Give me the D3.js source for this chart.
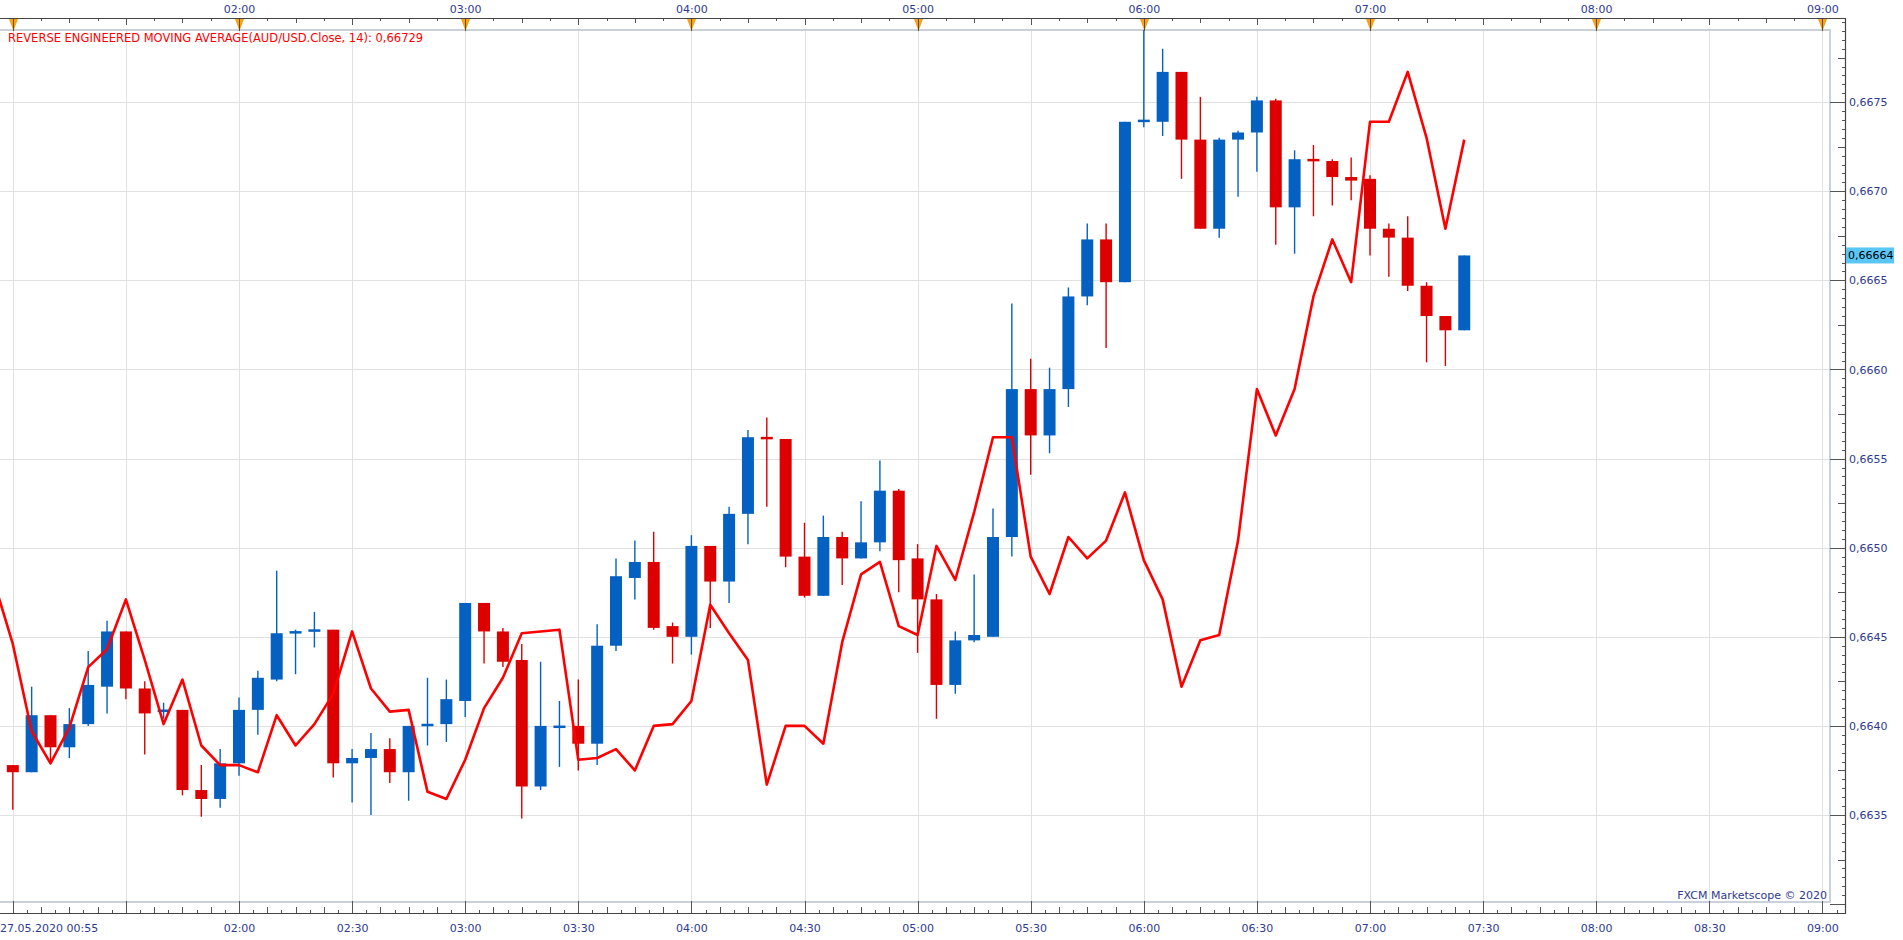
<!DOCTYPE html>
<html>
<head>
<meta charset="utf-8">
<script src="https://cdn.jsdelivr.net/npm/d3@7"></script>
<style>
body { margin: 0; background: #fff; }
text { font-family: "DejaVu Sans", sans-serif; }
</style>
</head>
<body>
<svg id="chart" width="1903" height="940"></svg>
<script>
// AUD/USD 5 minute bars, 27.05.2020
var times = ["00:55","01:00","01:05","01:10","01:15","01:20","01:25","01:30","01:35","01:40","01:45","01:50","01:55",
  "02:00","02:05","02:10","02:15","02:20","02:25","02:30","02:35","02:40","02:45","02:50","02:55",
  "03:00","03:05","03:10","03:15","03:20","03:25","03:30","03:35","03:40","03:45","03:50","03:55",
  "04:00","04:05","04:10","04:15","04:20","04:25","04:30","04:35","04:40","04:45","04:50","04:55",
  "05:00","05:05","05:10","05:15","05:20","05:25","05:30","05:35","05:40","05:45","05:50","05:55",
  "06:00","06:05","06:10","06:15","06:20","06:25","06:30","06:35","06:40","06:45","06:50","06:55",
  "07:00","07:05","07:10","07:15","07:20","07:25"];

var open = [0.66377,0.66378,0.66374,0.66406,0.66388,0.66401,0.66422,0.66453,0.66421,0.66408,0.66409,0.66364,0.66359,
  0.66379,0.66409,0.66426,0.66452,0.66453,0.66454,0.66379,0.66382,0.66387,0.66374,0.66400,0.66401,
  0.66414,0.66469,0.66453,0.66437,0.66366,0.66399,0.66400,0.66390,0.66445,0.66483,0.66492,0.66456,
  0.66450,0.66501,0.66481,0.66519,0.66562,0.66561,0.66495,0.66473,0.66506,0.66494,0.66503,0.66532,
  0.66494,0.66471,0.66423,0.66448,0.66450,0.66506,0.66589,0.66563,0.66589,0.66641,0.66673,0.66649,
  0.66739,0.66739,0.66767,0.66729,0.66679,0.66729,0.66733,0.66751,0.66691,0.66718,0.66717,0.66708,
  0.66707,0.66679,0.66674,0.66647,0.66630,0.66622];

var high = [0.66380,0.66378,0.66422,0.66406,0.66410,0.66442,0.66459,0.66453,0.66425,0.66413,0.66409,0.66378,0.66387,
  0.66416,0.66431,0.66487,0.66454,0.66464,0.66454,0.66387,0.66396,0.66393,0.66400,0.66427,0.66426,
  0.66469,0.66469,0.66455,0.66446,0.66436,0.66414,0.66426,0.66457,0.66494,0.66504,0.66509,0.66458,
  0.66507,0.66501,0.66523,0.66566,0.66573,0.66561,0.66514,0.66518,0.66509,0.66526,0.66549,0.66533,
  0.66502,0.66474,0.66453,0.66485,0.66522,0.66637,0.66606,0.66601,0.66646,0.66682,0.66682,0.66739,
  0.66800,0.66780,0.66767,0.66753,0.66730,0.66734,0.66753,0.66752,0.66723,0.66726,0.66718,0.66719,
  0.66709,0.66682,0.66686,0.66649,0.66630,0.66664];

var low = [0.66376,0.66353,0.66374,0.66380,0.66382,0.66400,0.66407,0.66415,0.66384,0.66404,0.66361,0.66349,0.66354,
  0.66372,0.66395,0.66425,0.66429,0.66444,0.66371,0.66357,0.66350,0.66368,0.66358,0.66389,0.66391,
  0.66405,0.66435,0.66433,0.66348,0.66364,0.66377,0.66375,0.66378,0.66442,0.66471,0.66454,0.66435,
  0.66440,0.66455,0.66469,0.66502,0.66523,0.66489,0.66472,0.66473,0.66479,0.66494,0.66498,0.66475,
  0.66441,0.66404,0.66418,0.66447,0.66450,0.66495,0.66541,0.66553,0.66579,0.66636,0.66612,0.66649,
  0.66736,0.66731,0.66707,0.66679,0.66674,0.66697,0.66711,0.66670,0.66665,0.66686,0.66692,0.66695,
  0.66664,0.66652,0.66644,0.66604,0.66602,0.66622];

var close = [0.66379,0.66374,0.66406,0.66388,0.66401,0.66423,0.66453,0.66421,0.66407,0.66409,0.66364,0.66359,0.66379,
  0.66409,0.66427,0.66452,0.66453,0.66454,0.66379,0.66382,0.66387,0.66374,0.66400,0.66401,0.66415,
  0.66469,0.66453,0.66436,0.66366,0.66400,0.66400,0.66390,0.66445,0.66484,0.66492,0.66455,0.66450,
  0.66501,0.66481,0.66519,0.66562,0.66561,0.66495,0.66473,0.66506,0.66494,0.66503,0.66532,0.66493,
  0.66471,0.66423,0.66448,0.66451,0.66506,0.66589,0.66563,0.66589,0.66641,0.66673,0.66649,0.66739,
  0.66740,0.66767,0.66729,0.66679,0.66729,0.66733,0.66751,0.66691,0.66718,0.66717,0.66708,0.66706,
  0.66679,0.66674,0.66647,0.66630,0.66622,0.66664];

// reverse engineered moving average (AUD/USD.Close, 14)
var rema = [0.66481,0.66446,0.66397,0.66379,0.66399,0.66433,0.66443,0.66471,0.66437,0.66401,0.66426,0.66389,0.66378,
  0.66378,0.66374,0.66406,0.66389,0.66401,0.66418,0.66453,0.66421,0.66408,0.66409,0.66363,0.66359,
  0.66381,0.66410,0.66427,0.66452,0.66453,0.66454,0.66381,0.66382,0.66387,0.66375,0.66400,0.66401,
  0.66414,0.66468,0.66452,0.66437,0.66367,0.66400,0.66400,0.66390,0.66447,0.66485,0.66492,0.66456,
  0.66451,0.66501,0.66482,0.66520,0.66562,0.66562,0.66495,0.66474,0.66506,0.66494,0.66504,0.66531,
  0.66493,0.66471,0.66422,0.66448,0.66451,0.66504,0.66589,0.66563,0.66589,0.66641,0.66673,0.66649,
  0.66739,0.66739,0.66767,0.66730,0.66679,0.66729];

var hourLabels = ["02:00","03:00","04:00","05:00","06:00","07:00","08:00","09:00"];
var halfHourLabels = ["02:00","02:30","03:00","03:30","04:00","04:30","05:00","05:30","06:00","06:30","07:00","07:30","08:00","08:30","09:00"];
var priceLevels = [0.6635, 0.6640, 0.6645, 0.6650, 0.6655, 0.6660, 0.6665, 0.6670, 0.6675];
var startLabel = "27.05.2020 00:55";
var lastPrice = 0.66664;

var navy = "#2e3b8e", blue = "#0561c1", red = "#dc0000";
var parseTime = d3.utcParse("%H:%M");
var svg = d3.select("#chart");

var x = d3.scaleUtc().domain([parseTime("01:00"), parseTime("09:00")]).range([12.8, 1822.4]);
var y = d3.scaleLinear().domain([0.6635, 0.6675]).range([815, 102.2]);

var plotL = 0, plotR = 1830, plotT = 30, plotB = 902;
var axisTopY = 18, axisBotY = 913, axisRightX = 1845;

var bars = times.map(function (t, i) {
  return {t: parseTime(t), o: open[i], h: high[i], l: low[i], c: close[i], m: rema[i]};
});

svg.append("defs").append("clipPath").attr("id", "plotclip")
  .append("rect").attr("x", plotL).attr("y", plotT).attr("width", plotR - plotL).attr("height", plotB - plotT);

// grid
var grid = svg.append("g").attr("stroke", "#e1e1e1").attr("stroke-width", 1);
var gridTimes = ["01:00", "01:30"].concat(halfHourLabels).map(parseTime);
grid.selectAll(".vgrid").data(gridTimes).enter().append("line")
  .attr("class", "vgrid")
  .attr("x1", function (d) { return Math.round(x(d)) + 0.5; })
  .attr("x2", function (d) { return Math.round(x(d)) + 0.5; })
  .attr("y1", plotT).attr("y2", plotB);
grid.selectAll(".hgrid").data(priceLevels).enter().append("line")
  .attr("class", "hgrid")
  .attr("x1", plotL).attr("x2", plotR)
  .attr("y1", function (d) { return Math.round(y(d)) + 0.5; })
  .attr("y2", function (d) { return Math.round(y(d)) + 0.5; });

// plot frame
svg.append("rect").attr("x", plotL - 2).attr("y", plotT).attr("width", plotR - plotL + 2).attr("height", plotB - plotT)
  .attr("fill", "none").attr("stroke", "#c9d1dd").attr("stroke-width", 2);

// candles
var plot = svg.append("g").attr("clip-path", "url(#plotclip)");
var candle = plot.selectAll(".candle").data(bars).enter().append("g").attr("class", "candle");
candle.append("line")
  .attr("x1", function (d) { return x(d.t); })
  .attr("x2", function (d) { return x(d.t); })
  .attr("y1", function (d) { return y(d.h); })
  .attr("y2", function (d) { return y(d.l); })
  .attr("stroke", function (d) { return d.c >= d.o ? blue : red; })
  .attr("stroke-width", 1.4);
candle.append("rect")
  .attr("x", function (d) { return x(d.t) - 6; })
  .attr("width", 12)
  .attr("y", function (d) {
    var h = Math.abs(y(d.o) - y(d.c));
    return Math.min(y(d.o), y(d.c)) - (h < 2.5 ? (2.5 - h) / 2 : 0);
  })
  .attr("height", function (d) { return Math.max(2.5, Math.abs(y(d.o) - y(d.c))); })
  .attr("fill", function (d) { return d.c >= d.o ? blue : red; });

// moving average line
var line = d3.line().x(function (d) { return x(d.t); }).y(function (d) { return y(d.m); });
plot.append("path").datum(bars)
  .attr("d", line)
  .attr("fill", "none").attr("stroke", "#ff0000").attr("stroke-width", 2.6).attr("stroke-linejoin", "round");

// top axis
var base = parseTime("01:00").getTime();
var topTicks = d3.range(-1, 66).map(function (i) { return {i: i, t: new Date(base + i * 450000)}; })
  .filter(function (d) { return x(d.t) >= 0 && x(d.t) <= axisRightX; });
svg.selectAll(".ttick").data(topTicks).enter().append("line")
  .attr("class", "ttick")
  .attr("x1", function (d) { return Math.round(x(d.t)) + 0.5; })
  .attr("x2", function (d) { return Math.round(x(d.t)) + 0.5; })
  .attr("y1", axisTopY)
  .attr("y2", function (d) {
    var i = ((d.i % 8) + 8) % 8;
    return axisTopY + (i == 0 ? 12 : i == 4 ? 7 : i % 2 == 0 ? 5 : 3);
  })
  .attr("stroke", "#555");
svg.selectAll(".hourmark").data(["01:00"].concat(hourLabels).map(parseTime)).enter().append("path")
  .attr("class", "hourmark")
  .attr("d", function (d) {
    var cx = Math.round(x(d)) + 0.5;
    return "M" + (cx - 4.5) + "," + (axisTopY + 1) + "L" + (cx + 4.5) + "," + (axisTopY + 1) + "L" + cx + "," + (plotT + 1) + "Z";
  })
  .attr("fill", "#f7a21b");
svg.selectAll(".hourline").data(["01:00"].concat(hourLabels).map(parseTime)).enter().append("line")
  .attr("class", "hourline")
  .attr("x1", function (d) { return Math.round(x(d)) + 0.5; })
  .attr("x2", function (d) { return Math.round(x(d)) + 0.5; })
  .attr("y1", axisTopY).attr("y2", plotT + 1)
  .attr("stroke", "#6b4a10").attr("stroke-width", 1);

var topAxis = svg.append("g").attr("transform", "translate(0," + axisTopY + ")")
  .call(d3.axisTop(x).tickValues(hourLabels.map(parseTime)).tickSize(0).tickPadding(5)
    .tickFormat(d3.utcFormat("%H:%M")));
topAxis.select(".domain").remove();

// bottom axis
var botTicks = d3.range(-3, 131).map(function (i) { return {i: i, t: new Date(base + i * 225000)}; })
  .filter(function (d) { return x(d.t) >= 0 && x(d.t) <= axisRightX; });
svg.selectAll(".btick").data(botTicks).enter().append("line")
  .attr("class", "btick")
  .attr("x1", function (d) { return Math.round(x(d.t)) + 0.5; })
  .attr("x2", function (d) { return Math.round(x(d.t)) + 0.5; })
  .attr("y1", axisBotY)
  .attr("y2", function (d) {
    var i = ((d.i % 8) + 8) % 8;
    return axisBotY - (i == 0 ? 12 : i % 2 == 0 ? 6 : 3);
  })
  .attr("stroke", "#555");
var botAxis = svg.append("g").attr("transform", "translate(0," + axisBotY + ")")
  .call(d3.axisBottom(x).tickValues(halfHourLabels.map(parseTime)).tickSize(0).tickPadding(11)
    .tickFormat(d3.utcFormat("%H:%M")));
botAxis.select(".domain").remove();
svg.append("text").attr("x", 0).attr("y", axisBotY + 19).text(startLabel)
  .attr("fill", navy).attr("font-size", 11);

// right axis
var rightTicks = d3.range(0, 101).map(function (i) { return {i: i, v: 0.6630 + i * 0.00005}; })
  .filter(function (d) { return y(d.v) >= axisTopY + 2 && y(d.v) <= axisBotY - 2; });
svg.selectAll(".rtick").data(rightTicks).enter().append("line")
  .attr("class", "rtick")
  .attr("y1", function (d) { return Math.round(y(d.v)) + 0.5; })
  .attr("y2", function (d) { return Math.round(y(d.v)) + 0.5; })
  .attr("x1", axisRightX)
  .attr("x2", function (d) { return axisRightX - (d.i % 10 == 0 ? 15 : d.i % 5 == 0 ? 7 : 3); })
  .attr("stroke", "#555");
var rightAxis = svg.append("g").attr("transform", "translate(" + axisRightX + ",0)")
  .call(d3.axisRight(y).tickValues(priceLevels).tickSize(0).tickPadding(4)
    .tickFormat(function (d) { return d3.format(".4f")(d).replace(".", ","); }));
rightAxis.select(".domain").remove();

svg.selectAll(".tick text").attr("fill", navy).attr("font-size", 11).attr("font-family", "DejaVu Sans");

// axis lines
svg.append("path")
  .attr("d", "M0," + (axisTopY + 0.5) + "H" + (axisRightX + 0.5) + "V" + (axisBotY + 0.5) + "H0")
  .attr("fill", "none").attr("stroke", "#444").attr("stroke-width", 1.2);

// last price marker
svg.append("rect").attr("x", axisRightX + 1).attr("y", y(lastPrice) - 8).attr("width", 48).attr("height", 16)
  .attr("fill", "#5ac6f6");
svg.append("text").attr("x", axisRightX + 3).attr("y", y(lastPrice)).attr("dy", "0.35em")
  .attr("font-size", 11).attr("fill", "#000").text(d3.format(".5f")(lastPrice).replace(".", ","));

// title and watermark
svg.append("text").attr("x", 8).attr("y", 41.5).attr("font-size", 11.5).attr("fill", "#ff0000")
  .text("REVERSE ENGINEERED MOVING AVERAGE(AUD/USD.Close, 14): " + d3.format(".5f")(rema[rema.length - 1]).replace(".", ","));
svg.append("text").attr("x", plotR - 3).attr("y", 899).attr("text-anchor", "end").attr("font-size", 11)
  .attr("fill", navy).text("FXCM Marketscope \u00a9 2020");
</script>
</body>
</html>
